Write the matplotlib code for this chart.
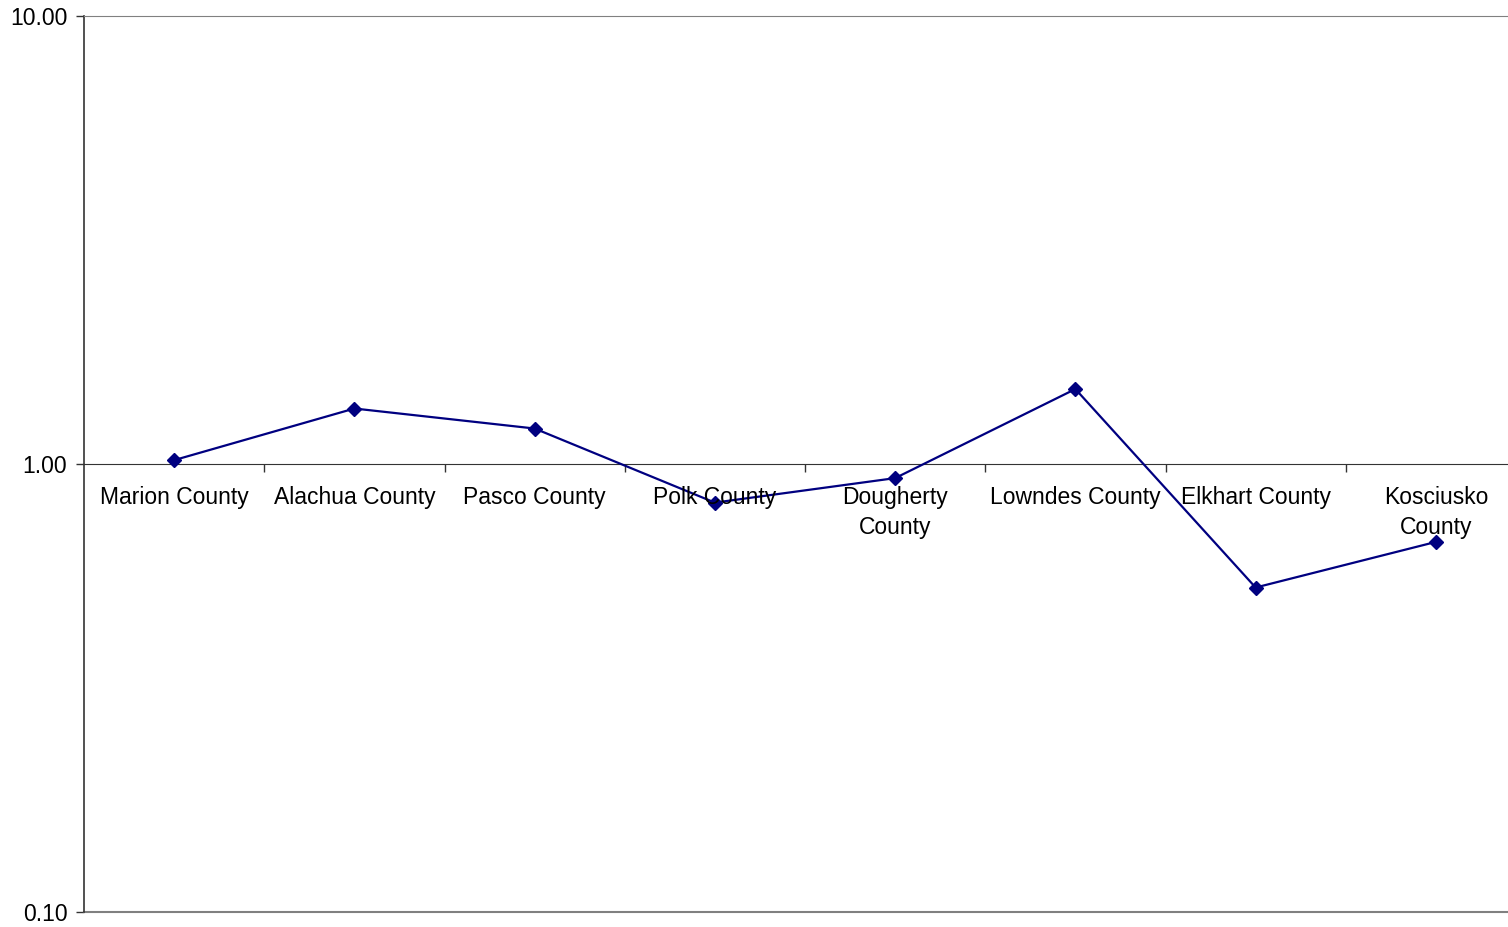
import matplotlib.pyplot as plt
from matplotlib.ticker import FixedLocator, NullLocator, FuncFormatter

plt.rcParams['font.family'] = ['Liberation Sans', 'DejaVu Sans']

counties = ['Marion County', 'Alachua County', 'Pasco County', 'Polk County',
            'Dougherty\nCounty', 'Lowndes County', 'Elkhart County',
            'Kosciusko\nCounty']
values = [1.02, 1.33, 1.20, 0.82, 0.93, 1.47, 0.53, 0.67]
yticks = [0.1, 1.0, 10.0]

fig = plt.figure(figsize=(15.08, 9.27), dpi=100)
# plot area runs a little past the right edge of the picture
ax = fig.add_axes([84/1508, 1 - 912/927, 1442/1508, (912 - 16)/927])

x = list(range(len(counties)))
ax.plot(x, values, color='#000080', lw=1.6, marker='D', markersize=7,
        markerfacecolor='#000080', markeredgecolor='#000080', zorder=3)

ax.set_yscale('log')
ax.set_ylim(0.1, 10)
ax.set_xlim(-0.5, len(counties) - 0.5)

# y axis
ax.yaxis.set_major_locator(FixedLocator(yticks))
ax.yaxis.set_minor_locator(NullLocator())
ax.yaxis.set_major_formatter(FuncFormatter(lambda v, p: f'{v:.2f}'))
ax.tick_params(axis='y', direction='out', length=6, width=1, color='#333333',
               labelsize=16.5, pad=6)

# category axis crossing at 1.0
ax.spines['bottom'].set_position(('data', 1.0))
ax.spines['bottom'].set_color('#333333')
ax.spines['left'].set_color('#333333')
ax.spines['left'].set_linewidth(1.2)
ax.spines['top'].set_color('#808080')
ax.spines['right'].set_visible(False)
ax.set_xticks([i + 0.5 for i in range(len(counties) - 1)])
ax.set_xticklabels([])
ax.tick_params(axis='x', direction='out', length=6, width=1, color='#333333')

# gridline at 0.10
ax.axhline(0.1, color='#808080', lw=1.5, clip_on=False)

for i, name in enumerate(counties):
    ax.annotate(name, (i, 1.0), xytext=(0, -16), textcoords='offset points',
                ha='center', va='top', fontsize=16.5, linespacing=1.4)

fig.savefig('out.png', dpi=100)
